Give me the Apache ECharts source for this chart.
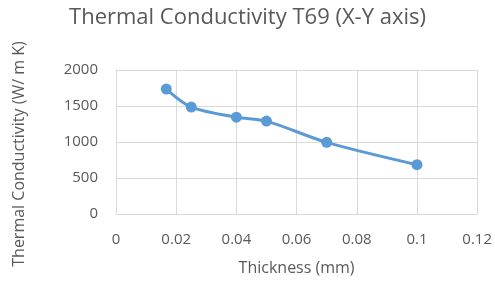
<!DOCTYPE html>
<html><head><meta charset="utf-8">
<script src="https://cdn.jsdelivr.net/npm/echarts@6/dist/echarts.min.js"></script>
<style>html,body{margin:0;padding:0;background:#fff}#c{width:495px;height:282px}</style>
</head><body><div id="c"></div>
<script>
var thickness = [0.0167, 0.025, 0.04, 0.05, 0.07, 0.1];
var conductivity = [1735, 1485, 1345, 1290, 995, 685];
var titleText = 'Thermal Conductivity T69 (X-Y axis)';
var xName = 'Thickness (mm)';
var yName = 'Thermal Conductivity (W/ m K)';

var data = thickness.map(function(x, i){ return [x, conductivity[i]]; });
var chart = echarts.init(document.getElementById('c'));
var grid = '#d9d9d9', txt = '#595959', font = 'Open Sans';
chart.setOption({
  animation: false,
  title: { text: titleText, left: 'center', top: 2,
    textStyle: { fontFamily: font, fontSize: 22, fontWeight: 'normal', color: txt } },
  grid: { left: 116, right: 16, top: 70, bottom: 68, containLabel: false },
  xAxis: { type: 'value', min: 0, max: 0.12, interval: 0.02,
    name: xName, nameLocation: 'middle', nameGap: 46,
    nameTextStyle: { fontFamily: font, fontSize: 16, color: txt },
    axisLine: { show: true, lineStyle: { color: grid } },
    axisTick: { show: false },
    axisLabel: { fontFamily: font, fontSize: 15, color: txt, margin: 18,
      formatter: function(v){ return String(+v.toFixed(2)); } },
    splitLine: { show: true, lineStyle: { color: grid } } },
  yAxis: { type: 'value', min: 0, max: 2000, interval: 500,
    name: yName, nameLocation: 'middle', nameGap: 89, nameRotate: 90,
    nameTextStyle: { fontFamily: font, fontSize: 16, color: txt, padding: [0, 24, 0, 0] },
    axisLine: { show: true, lineStyle: { color: grid } },
    axisTick: { show: false },
    axisLabel: { fontFamily: font, fontSize: 15, color: txt, margin: 18,
      formatter: function(v){ return String(v); } },
    splitLine: { show: true, lineStyle: { color: grid } } },
  series: [{ type: 'line', data: data, smooth: 0.3,
    symbol: 'circle', symbolSize: 11,
    lineStyle: { color: '#5b9bd5', width: 3 },
    itemStyle: { color: '#5b9bd5' } }]
});
</script></body></html>
